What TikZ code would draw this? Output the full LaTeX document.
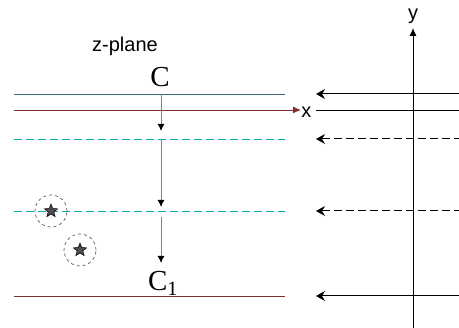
\documentclass[tikz,border=0pt]{standalone}
\usepackage{fontspec}
\setmainfont{Liberation Serif}
\setsansfont{Liberation Sans}
\usetikzlibrary{arrows,arrows.meta,positioning,shapes.geometric}

\definecolor{tealline}{RGB}{55,105,110}
\definecolor{redline}{RGB}{130,45,45}
\definecolor{dashline}{RGB}{20,165,185}

\begin{document}
\begin{tikzpicture}[x=1pt,y=-1pt,>={Latex[length=8pt,width=7pt]},line width=0.9pt,
		every node/.style={inner sep=0pt},
		lbl/.style={font=\sffamily\fontsize{20}{20}\selectfont},
		big/.style={font=\fontsize{29}{29}\selectfont},
		drop/.style={draw=gray,line width=1pt,-{Latex[black,length=7pt,width=7pt]}},
		back/.style={draw=black,line width=1pt,{Stealth[length=9pt,width=10pt,inset=3pt]}-},
		dsh/.style={dash pattern=on 8pt off 4pt},
		pole/.style={circle,draw=gray!70!black,dashed,line width=0.7pt,minimum size=32pt},
		starry/.style={star,star points=5,star point ratio=2.3,fill=gray!60!black,draw=black,line width=0.5pt,minimum size=14pt}]
	\useasboundingbox (0,0) rectangle (459,328);
	% z-plane
	\node[lbl] (zp) at (125,46) {z-plane};
	\node[big,anchor=base] (C) at (160,87) {C};
	\node[big,anchor=base] (C1) at (163,291) {C\textsubscript{1}};
	\coordinate (l1a) at (14,94);   \coordinate (l1b) at (285,94);
	\coordinate (xa) at (14,110);   \coordinate (xb) at (301,110);
	\coordinate (d1a) at (14,139);  \coordinate (d1b) at (285,139);
	\coordinate (d2a) at (14,211);  \coordinate (d2b) at (285,211);
	\coordinate (l2a) at (14,296);  \coordinate (l2b) at (285,296);
	\node[lbl,anchor=west] (x) at (301,112) {x};
	\draw[tealline] (l1a) -- (l1b);
	\draw[redline,->] (xa) -- (xb);
	\draw[dashline,dsh] (d1a) -- (d1b);
	\draw[dashline,dsh] (d2a) -- (d2b);
	\draw[redline] (l2a) -- (l2b);
	% shifting the contour down
	\coordinate (s1) at (161,94);  \coordinate (t1) at (161,131);
	\coordinate (s2) at (161,139); \coordinate (t2) at (161,207);
	\coordinate (s3) at (161,217); \coordinate (t3) at (161,263);
	\draw[drop] (s1) -- (t1);
	\draw[drop] (s2) -- (t2);
	\draw[drop] (s3) -- (t3);
	% poles
	\node[pole] (p1) at (51,211) {};
	\node[starry] (st1) at (p1) {};
	\node[pole] (p2) at (80,250) {};
	\node[starry] (st2) at (p2) {};
	% w-plane
	\coordinate (yb) at (413,328); \coordinate (yt) at (413,28);
	\draw[->] (yb) -- (yt);
	\node[lbl] (y) at (413,16) {y};
	\coordinate (r1) at (316,94);  \coordinate (e1) at (459,94);
	\coordinate (r2) at (316,110); \coordinate (e2) at (459,110);
	\coordinate (r3) at (316,139); \coordinate (e3) at (459,139);
	\coordinate (r4) at (316,211); \coordinate (e4) at (459,211);
	\coordinate (r5) at (316,296); \coordinate (e5) at (459,296);
	\draw[back] (r1) -- (e1);
	\draw (r2) -- (e2);
	\draw[back,dsh] (r3) -- (e3);
	\draw[back,dsh] (r4) -- (e4);
	\draw[back] (r5) -- (e5);
\end{tikzpicture}
\end{document}
